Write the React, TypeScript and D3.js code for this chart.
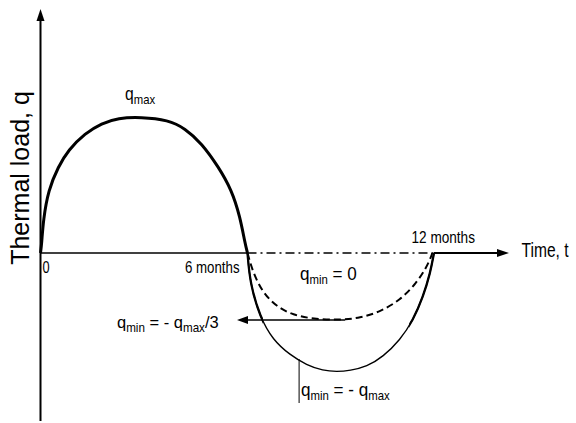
import * as d3 from "d3";

// values: months vs. load as a fraction of q_max
const upperMonths = [0, 0.035, 0.081, 0.226, 0.516, 0.806, 1.29, 1.774, 2.246, 2.913, 3.704, 4.188, 4.672, 5.154, 5.542, 5.783, 5.928, 6];
const upperLoad = [0, 0.071, 0.243, 0.463, 0.635, 0.757, 0.88, 0.954, 0.993, 1.0, 0.978, 0.917, 0.807, 0.635, 0.463, 0.267, 0.071, 0];

const fullMonths = [6, 6.08, 6.4, 6.82, 7.37, 7.9, 8.43, 8.87, 9.3, 9.84, 10.36, 10.91, 11.33, 11.65, 11.88, 12];
const fullLoad = [0, -0.221, -0.471, -0.64, -0.75, -0.824, -0.865, -0.873, -0.865, -0.836, -0.763, -0.64, -0.493, -0.321, -0.147, 0];

const thirdMonths = [6, 6.18, 6.5, 6.94, 7.46, 8.11, 8.98, 9.62, 10.27, 10.91, 11.44, 11.77, 11.93, 11.94];
const thirdLoad = [0, -0.147, -0.294, -0.395, -0.456, -0.485, -0.493, -0.478, -0.432, -0.346, -0.221, -0.101, -0.015, 0];

const monthTicks = [0, 6, 12];
const monthLabels = ["0", "6 months", "12 months"];

const W = 576;
const H = 423;

const x = d3.scaleLinear().domain([0, 6, 12]).range([40.5, 247.5, 434]);
const y = d3.scaleLinear().domain([0, 1]).range([253, 117]);

const line = d3
  .line<[number, number]>()
  .x((d) => x(d[0]))
  .y((d) => y(d[1]))
  .curve(d3.curveBasis);

const zip = (a: number[], b: number[]) => a.map((v, i) => [v, b[i]] as [number, number]);

const font = "'Liberation Sans', Arial, Helvetica, sans-serif";

// q with a subscript, followed by the rest of the label
const QLabel = ({ tx, ty, sx, big, small, sub, rest, sub2, tail }: any) => (
  <g transform={`translate(${tx},${ty}) scale(${sx},1)`}>
    <text fontFamily={font} fontSize={big} fill="#000">
      <tspan>q</tspan>
      <tspan fontSize={small} dy={4}>{sub}</tspan>
      {rest && <tspan dy={-4}>{rest}</tspan>}
      {sub2 && <tspan fontSize={small} dy={4}>{sub2}</tspan>}
      {tail && <tspan dy={-4}>{tail}</tspan>}
    </text>
  </g>
);

export default function App() {
  const y0 = y(0);
  const lowIdx = thirdLoad.indexOf(d3.min(thirdLoad) as number);
  const arrowY = y(thirdLoad[lowIdx]);
  const pinMonth = 7.66;
  const pinLoad = -0.78;
  const fullPath = line(zip(fullMonths, fullLoad)) || "";

  return (
    <svg width={W} height={H} style={{ position: "absolute", left: 0, top: 0, background: "#fff" }}>
      <defs>
        {/* the heavy stroke carries on a little way into the second lobe, and up its far side */}
        <clipPath id="heavy">
          <rect x={x(6) - 5} y={y0} width={x(6.5) - x(6) + 5} height={150} />
          <rect x={x(11.2)} y={y0} width={x(12) - x(11.2) + 5} height={150} />
        </clipPath>
      </defs>

      {/* y axis */}
      <line x1={x(0)} x2={x(0)} y1={421} y2={18} stroke="#000" strokeWidth={2} />
      <path d={`M${x(0)},9 L${x(0) + 4},21 L${x(0) - 4},21 Z`} fill="#000" />

      {/* x axis */}
      <line x1={x(0)} x2={x(6)} y1={y0} y2={y0} stroke="#000" strokeWidth={1.6} />
      <line x1={x(6)} x2={x(12)} y1={y0} y2={y0} stroke="#000" strokeWidth={1.6} strokeDasharray="9 4 2 4" />
      <line x1={x(12)} x2={500} y1={y0} y2={y0} stroke="#000" strokeWidth={2} />
      <path d={`M509,${y0} L497,${y0 - 4} L497,${y0 + 4} Z`} fill="#000" />

      {/* curves */}
      <path d={line(zip(upperMonths, upperLoad)) || ""} fill="none" stroke="#000" strokeWidth={3} />
      <path d={fullPath} fill="none" stroke="#000" strokeWidth={1.4} />
      <path d={fullPath} fill="none" stroke="#000" strokeWidth={2.3} clipPath="url(#heavy)" />
      <path
        d={line(zip(thirdMonths, thirdLoad)) || ""}
        fill="none"
        stroke="#000"
        strokeWidth={2}
        strokeDasharray="7 4"
      />

      {/* arrow to q_min = -q_max/3 label */}
      <line x1={x(thirdMonths[lowIdx]) + 5} x2={246} y1={arrowY} y2={arrowY} stroke="#000" strokeWidth={1.6} />
      <path d={`M237,${arrowY} L248,${arrowY - 4} L248,${arrowY + 4} Z`} fill="#000" />

      {/* pin to q_min = -q_max label */}
      <line x1={x(pinMonth)} x2={x(pinMonth)} y1={y(pinLoad)} y2={403} stroke="#000" strokeWidth={1} />

      {/* tick labels */}
      {monthTicks.map((m, i) => {
        const off = [2, -62.5, -22.5][i];
        const sx = [0.8, 0.83, 0.85][i];
        return (
          <g key={m} transform={`translate(${x(m) + off},${i === 2 ? 242.5 : 272.5}) scale(${sx},1)`}>
            <text fontFamily={font} fontSize={16} fill="#000">
              {monthLabels[i]}
            </text>
          </g>
        );
      })}

      <g transform={`translate(521.5,256.5) scale(0.78,1)`}>
        <text fontFamily={font} fontSize={20} fill="#000">
          Time, t
        </text>
      </g>

      <text
        transform={`translate(29,${178}) rotate(-90)`}
        textAnchor="middle"
        fontFamily={font}
        fontSize={25}
        fill="#000"
      >
        Thermal load, q
      </text>

      <QLabel tx={125} ty={100} sx={0.87} big={18} small={13} sub="max" />
      <QLabel tx={300} ty={280} sx={0.95} big={18} small={12} sub="min" rest=" = 0" />
      <QLabel tx={117} ty={327.5} sx={0.97} big={17} small={12} sub="min" rest=" = - q" sub2="max" tail="/3" />
      <QLabel tx={301} ty={396} sx={0.95} big={18} small={12} sub="min" rest=" = - q" sub2="max" />
    </svg>
  );
}
